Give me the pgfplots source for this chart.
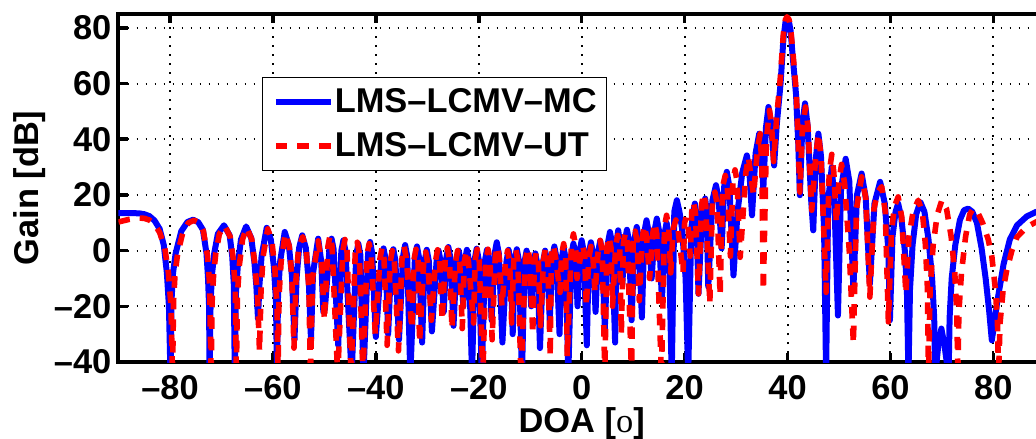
\documentclass[border=0pt]{standalone}
\usepackage{pgfplots}
\pgfplotsset{compat=1.18}
\usepackage{fontspec}
\setmainfont{Liberation Sans}
\newfontfamily\serifo{Liberation Serif}
\newcommand\ff{\fontsize{17.2}{20}\selectfont\bfseries}
\begin{document}
\begin{tikzpicture}
\begin{axis}[
 at={(0,0)}, anchor=south west,
 scale only axis, width=463.15pt, height=174pt,
 xmin=-90, xmax=90, ymin=-40, ymax=85,
 xtick={-80,-60,...,80},
 xticklabels={–80,–60,–40,–20,0,20,40,60,80},
 ytick={-40,-20,...,80},
 yticklabels={–40,–20,0,20,40,60,80},
 tick align=inside,
 major tick length=4.5pt,
 tick style={black, line width=1.8pt},
 axis line style={line width=2pt},
 grid=major,
 major grid style={black, line width=1pt, dash pattern=on 0.8pt off 3.7pt},
 tick label style={font=\ff},
 label style={font=\ff},
 xticklabel style={anchor=north, inner sep=0pt, yshift=-6.5pt},
 yticklabel style={anchor=east, inner sep=0pt, xshift=-3.4pt},
 xlabel={DOA [{\serifo\mdseries o}]},
 ylabel={Gain [dB]},
 xlabel style={at={(axis description cs:0.5,-0.204)}, anchor=base},
 ylabel style={at={(axis description cs:-0.0869,0.5)}, anchor=base},
 legend style={at={(axis description cs:0.155,0.819)}, anchor=north west,
   draw=black, line width=0.7pt, fill=white, font=\ff,
   inner xsep=5pt, inner ysep=5.5pt, row sep=8.5pt, column sep=0.5pt,
   nodes={inner sep=0pt}},
 legend cell align=left,
 legend image code/.code={\draw[#1] (0pt,0pt) -- (27.5pt,0pt);},
]
\addplot[blue, line width=3pt, line join=round] coordinates {
(-90,13.5) (-88,13.5) (-86,13.4) (-85,13.1) (-84,12.4) (-83,10.8) (-82,7.8) (-81.2,2) (-80.6,-8) (-80.2,-20) (-79.9,-45)
(-79.7,-18) (-79.4,-8) (-78.9,-1) (-77.8,7) (-76.6,10.3) (-75.5,11.1) (-74.5,10.2) (-73.6,7.5) (-72.9,-1) (-72.6,-10) (-72.4,-20) (-72.3,-45)
(-72.1,-18) (-71.8,-8) (-71.4,-1) (-70.7,6) (-69.5,9.1) (-68.4,5.5) (-67.9,-2) (-67.6,-12) (-67.4,-45)
(-67.2,-16) (-66.8,-5) (-66.2,4) (-65.2,8.7) (-64.2,4.5) (-63.6,-4) (-63.2,-13) (-62.9,-24.4)
(-62.6,-12) (-62.2,-2) (-61.2,8.2) (-60.4,4) (-59.8,-6) (-59.4,-18) (-59.2,-45)
(-59.0,-16) (-58.6,-4) (-57.7,6.7) (-56.9,2) (-56.3,-9) (-55.8,-32)
(-55.4,-10) (-54.9,1) (-54.3,5.5) (-53.6,1) (-53.0,-12) (-52.6,-32)
(-52.2,-8) (-51.2,4.3) (-50.6,-4) (-50.2,-22)
(-49.9,-21) (-49.0,0.5) (-48.6,4.3) (-48.2,0.5) (-47.3,-34)
(-46.7,0) (-46.3,3.7) (-45.9,0) (-44.7,-45)
(-43.8,-1.5) (-43.4,2.5) (-43.0,-1.5) (-42.4,-45)
(-41.5,-1) (-41.1,3.1) (-40.7,-1) (-40.0,-31)
(-38.9,-3) (-38.5,0.8) (-38.1,-3) (-37.6,-30)
(-37.0,-3.5) (-36.6,0.5) (-36.2,-3.5) (-35.5,-32)
(-34.7,-2) (-34.3,2) (-33.9,-2) (-33.3,-45)
(-32.4,-2.5) (-32.0,1.5) (-31.6,-2.5) (-31.0,-33)
(-30.5,-3.7) (-30.1,0.3) (-29.7,-3.7) (-29.1,-29)
(-28.2,-4) (-27.8,0) (-27.4,-4) (-26.8,-22)
(-26.3,-2.7) (-25.9,1.3) (-25.5,-2.7) (-24.9,-27)
(-24.3,-4) (-23.9,0) (-23.5,-4) (-23.0,-20)
(-22.7,-3.7) (-22.3,0.3) (-21.9,-3.7) (-21.3,-45)
(-20.8,-3.3) (-20.4,0.7) (-20.0,-3.3) (-19.4,-45)
(-18.8,-3.7) (-18.4,0.3) (-18.0,-3.7) (-17.5,-25)
(-16.9,-1) (-16.5,3) (-16.1,-1) (-15.4,-33)
(-14.6,-3.7) (-14.2,0.3) (-13.8,-3.7) (-13.4,-30)
(-13.0,-3.5) (-12.6,0.5) (-12.2,-3.5) (-11.6,-45)
(-11.1,-4) (-10.7,0) (-10.3,-4) (-9.8,-20)
(-9.4,-5) (-9.0,-1) (-8.6,-5) (-8.1,-35)
(-7.5,-4) (-7.1,0) (-6.7,-4) (-6.2,-25)
(-5.7,-2.5) (-5.3,1.5) (-4.9,-2.5) (-4.3,-30)
(-3.9,-3) (-3.5,1) (-3.1,-3) (-2.6,-45)
(-2.0,-1.5) (-1.6,2.5) (-1.2,-1.5) (-0.8,-20)
(-0.4,-0.3) (0.0,3.7) (0.4,-0.3) (1.0,-34)
(1.4,-1) (1.8,3) (2.2,-1) (2.7,-22)
(3.2,-0.5) (3.6,3.5) (4.0,-0.5) (4.5,-28)
(5.1,2.7) (5.5,6.7) (5.9,2.7) (6.5,-33)
(6.8,3.3) (7.1,7.3) (7.4,3.3) (7.9,-12)
(8.4,3.5) (8.8,7.5) (9.2,3.5) (9.7,-25)
(10.3,4.5) (10.7,8.5) (11.1,4.5) (11.7,-24)
(12.2,6.9) (12.6,10.9) (13.0,6.9) (13.6,-10)
(14.2,7.5) (14.6,11.5) (15.0,7.5) (15.6,-18)
(16.1,6) (16.5,10) (16.9,6) (17.5,-45)
(18.0,14) (18.5,18.1) (19.0,14) (19.5,8) (20.2,-10) (20.7,-45)
(21.3,8) (21.7,14) (22.0,16.9) (22.3,13) (22.7,-15.5)
(23.4,14) (24.0,18.7) (24.3,14) (24.6,-13)
(25.4,18) (26.1,23.5) (26.6,19) (27.2,0.8)
(27.7,23) (28.2,28.3) (28.7,23) (29.5,-8.9)
(30.3,14) (31.2,28) (32.1,34.2) (32.6,28) (33.1,12.7)
(33.8,35) (34.5,42) (34.9,36) (35.3,22)
(35.8,44) (36.3,51.6) (36.8,46) (37.4,30.6)
(37.9,45) (38.65,60) (39.2,76) (39.6,82) (39.9,83.4) (40.3,82) (40.6,79) (41.0,70) (41.66,56) (42.1,38) (42.4,19.9)
(42.9,46) (43.4,52.9) (43.9,45) (44.6,18) (45.0,7.3)
(45.5,33) (46.0,42) (46.5,34) (47.1,8) (47.5,-45)
(47.9,18) (48.6,30) (49.1,18) (49.8,-23.3)
(50.4,22) (51.3,33) (52.0,25) (52.8,-14)
(53.5,20) (54.4,27.7) (55.2,19) (56.0,-12)
(56.9,17) (58.0,24.7) (58.9,17) (59.6,0) (59.9,-25)
(60.4,5) (61.0,14) (61.5,16.9) (62.1,12) (62.8,0) (63.2,-14) (63.5,-45)
(63.8,-14) (64.3,2) (65.0,13) (65.8,17.5) (66.6,14) (67.4,4) (68.1,-10) (68.5,-24) (68.7,-45)
(69.3,-34) (69.9,-28) (70.5,-34) (71.3,-45)
(71.5,-24) (71.9,-10) (72.6,2) (73.5,11) (74.3,14.5) (75.1,15.1) (75.9,14) (76.8,10) (77.7,1) (78.5,-10) (79.2,-22) (79.7,-32.2)
(80.2,-26) (80.7,-19) (82.0,-4.7) (83.2,4) (84.6,9.1) (86.5,12.3) (88.3,13.9) (90,14.2)
};
\addlegendentry{LMS–LCMV–MC}
\addplot[red, line width=2.8pt, line join=round, dash pattern=on 5.8pt off 5pt] coordinates {
(-90,10.3) (-88,11.2) (-86,11.7) (-85,11.6) (-84,11.0) (-83,9.5) (-82,6.5) (-81,1) (-80.3,-8) (-79.8,-20) (-79.5,-45)
(-79.3,-18) (-79.0,-8) (-78.5,-1) (-77.5,6.5) (-76.4,10) (-75.3,10.9) (-74.3,10) (-73.5,7) (-72.7,-2) (-72.3,-12) (-72.0,-45)
(-71.8,-18) (-71.5,-8) (-71.1,-1) (-70.4,6) (-69.4,9) (-68.3,5) (-67.7,-3) (-67.3,-14) (-67.1,-45)
(-66.9,-16) (-66.5,-5) (-65.9,4) (-65.1,8.3) (-64.1,4) (-63.5,-5) (-63.0,-16) (-62.6,-36)
(-62.3,-14) (-61.9,-2) (-61.0,7.8) (-60.2,3.5) (-59.6,-7) (-59.2,-20) (-59.0,-45)
(-58.8,-16) (-58.4,-4) (-57.6,6.2) (-56.8,1.5) (-56.3,-10) (-55.9,-35)
(-55.5,-10) (-55.0,1) (-54.2,5) (-53.5,0) (-53.0,-14) (-52.7,-45)
(-52.3,-10) (-51.2,3.5) (-50.5,-5) (-50.0,-25)
(-49.3,1.5) (-48.9,5.5) (-48.5,1.5) (-47.4,-45)
(-46.4,0) (-46.0,4) (-45.6,0) (-44.8,-45)
(-44.0,-1) (-43.6,3) (-43.2,-1) (-42.5,-45)
(-41.7,-1.5) (-41.3,2.5) (-40.9,-1.5) (-40.1,-30)
(-39.2,-3) (-38.8,1) (-38.4,-3) (-37.8,-34)
(-37.2,-4) (-36.8,0) (-36.4,-4) (-35.6,-36)
(-34.9,-2.5) (-34.5,1.5) (-34.1,-2.5) (-33.0,-28)
(-32.6,-3.5) (-32.2,0.5) (-31.8,-3.5) (-31.5,-33)
(-30.7,-4.5) (-30.3,-0.5) (-29.9,-4.5) (-29.2,-25)
(-28.4,-3.7) (-28.0,0.3) (-27.6,-3.7) (-27.1,-25)
(-26.5,-3) (-26.1,1) (-25.7,-3) (-25.2,-28)
(-24.5,-4) (-24.1,0) (-23.7,-4) (-23.2,-28)
(-22.8,-4) (-22.4,0) (-22.0,-4) (-21.0,-26)
(-20.7,-3.5) (-20.3,0.5) (-19.9,-3.5) (-19.2,-45)
(-18.6,-3.5) (-18.2,0.5) (-17.8,-3.5) (-17.4,-32)
(-16.8,-2.5) (-16.4,1.5) (-16.0,-2.5) (-15.5,-20)
(-14.8,-4) (-14.4,0) (-14.0,-4) (-13.6,-26)
(-13.2,-3.5) (-12.8,0.5) (-12.4,-3.5) (-11.8,-45)
(-10.9,-3) (-10.5,1) (-10.1,-3) (-9.5,-30)
(-9.2,-4.5) (-8.8,-0.5) (-8.4,-4.5) (-8.0,-27)
(-7.4,-3) (-7.0,1) (-6.6,-3) (-6.1,-38)
(-5.9,-2) (-5.5,2) (-5.1,-2) (-4.2,-15)
(-3.9,-1.5) (-3.5,2.5) (-3.1,-1.5) (-2.8,-38)
(-2.0,2) (-1.6,6) (-1.2,2) (-0.9,-10)
(-0.2,-2) (0.2,2) (0.6,-2) (0.9,-20)
(1.4,-2.5) (1.8,1.5) (2.2,-2.5) (2.6,-15)
(3.2,-0.3) (3.6,3.7) (4.0,-0.3) (4.5,-45)
(4.9,1) (5.3,5) (5.7,1) (6.0,-20)
(6.6,1.5) (7.0,5.5) (7.4,1.5) (7.7,-30)
(8.1,2.5) (8.5,6.5) (8.9,2.5) (9.7,-45)
(10.0,3) (10.4,7) (10.8,3) (11.2,-18)
(11.8,5) (12.2,9) (12.6,5) (13.2,-10)
(13.8,6) (14.2,10) (14.6,6) (15.5,-45)
(16.1,8.7) (16.5,12.7) (16.9,8.7) (17.3,-8)
(17.8,8) (18.3,11) (18.7,8) (19.7,-8)
(20.0,10) (20.3,12) (20.7,8) (21.1,-2)
(21.4,14) (21.7,17.5) (22.1,14) (22.7,-15.5)
(23.3,16.5) (23.7,20.5) (24.1,16.5) (24.9,-19)
(25.4,17) (25.9,21) (26.3,17) (26.9,-16)
(27.4,23) (27.9,27) (28.3,23) (28.9,-2)
(29.4,25) (29.8,29) (30.2,25) (30.8,-2.4)
(31.9,28) (32.4,33.6) (32.8,28) (33.4,20)
(34.2,37) (34.7,42) (35.0,30) (35.3,-14.3)
(35.9,40) (36.5,50.4) (36.9,45) (37.3,32)
(37.9,48) (38.6,62) (39.2,78) (39.6,83) (39.9,84) (40.3,83) (40.6,80) (41.1,70) (41.7,57) (42.1,38) (42.4,21)
(42.9,44) (43.5,51.6) (44.0,44) (44.7,14.5)
(45.5,34) (46.0,42) (46.5,34) (47.5,-15)
(48.1,28) (48.6,34.6) (49.0,28) (49.5,10)
(50.0,25) (50.5,31) (51.1,24) (52.0,0) (52.8,-33.4)
(53.4,15) (54.4,26.5) (55.2,19) (56.0,-16.7)
(56.8,15) (57.5,21) (58.3,23) (59.0,14) (59.6,-25.6)
(60.2,7) (60.8,16) (61.5,19.3) (62.2,12) (63.0,-15.4)
(63.6,5) (64.4,14) (65.4,18.1) (66.2,14) (66.8,2) (67.2,-14) (67.4,-45)
(67.7,-14) (68.3,2) (69.1,13) (70.0,18.1) (70.9,15) (71.8,5) (72.5,-8) (72.9,-22) (73.1,-45)
(73.3,-22) (73.8,-8) (74.6,5) (75.4,13) (76.1,15.1) (76.9,14) (77.9,10) (79.0,4) (79.7,-2) (80.4,-14) (80.8,-26) (81.0,-45)
(81.3,-26) (81.9,-14) (82.6,-7) (83.6,0) (84.6,4.9) (86.5,8.5) (88.3,10.3) (90,11.5)
};
\addlegendentry{LMS–LCMV–UT}
\end{axis}
\pgfresetboundingbox
\useasboundingbox (-59.25pt,-38pt) rectangle (458.75pt,181pt);
\end{tikzpicture}
\end{document}
